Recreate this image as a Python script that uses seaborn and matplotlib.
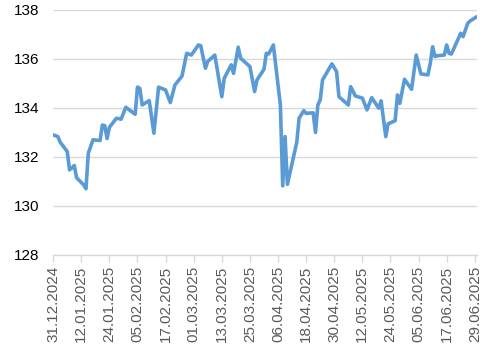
import matplotlib
matplotlib.use("Agg")
import matplotlib.pyplot as plt
import matplotlib.dates as mdates
import seaborn as sns
import pandas as pd
import numpy as np

dates = [
    "2024-12-31", "2025-01-02", "2025-01-03", "2025-01-06", "2025-01-07", "2025-01-08",
    "2025-01-09", "2025-01-10", "2025-01-13", "2025-01-14", "2025-01-15", "2025-01-17",
    "2025-01-20", "2025-01-21", "2025-01-22", "2025-01-23", "2025-01-24", "2025-01-27",
    "2025-01-29", "2025-01-31", "2025-02-04", "2025-02-05", "2025-02-06", "2025-02-07",
    "2025-02-10", "2025-02-12", "2025-02-14", "2025-02-17", "2025-02-19", "2025-02-21",
    "2025-02-24", "2025-02-26", "2025-02-28", "2025-03-03", "2025-03-04", "2025-03-06",
    "2025-03-07", "2025-03-10", "2025-03-13", "2025-03-14", "2025-03-17", "2025-03-18",
    "2025-03-20", "2025-03-21", "2025-03-25", "2025-03-27", "2025-03-28", "2025-03-31",
    "2025-04-01", "2025-04-02", "2025-04-04", "2025-04-07", "2025-04-08", "2025-04-09",
    "2025-04-10", "2025-04-14", "2025-04-15", "2025-04-17", "2025-04-18", "2025-04-21",
    "2025-04-22", "2025-04-23", "2025-04-24", "2025-04-25", "2025-04-29", "2025-05-01",
    "2025-05-02", "2025-05-06", "2025-05-07", "2025-05-09", "2025-05-12", "2025-05-14",
    "2025-05-16", "2025-05-19", "2025-05-20", "2025-05-22", "2025-05-23", "2025-05-26",
    "2025-05-27", "2025-05-28", "2025-05-30", "2025-06-02", "2025-06-04", "2025-06-06",
    "2025-06-09", "2025-06-10", "2025-06-11", "2025-06-12", "2025-06-13", "2025-06-16",
    "2025-06-17", "2025-06-18", "2025-06-19", "2025-06-23", "2025-06-24", "2025-06-26",
    "2025-06-27", "2025-06-30",
]
values = [
    132.90, 132.83, 132.60, 132.22, 131.47, 131.55,
    131.65, 131.15, 130.86, 130.70, 132.15, 132.70,
    132.67, 133.30, 133.28, 132.75, 133.21, 133.58,
    133.54, 134.03, 133.74, 134.85, 134.80, 134.12,
    134.30, 132.97, 134.85, 134.73, 134.22, 134.94,
    135.30, 136.23, 136.16, 136.57, 136.54, 135.62,
    135.90, 136.16, 134.46, 135.20, 135.76, 135.41,
    136.48, 136.03, 135.69, 134.67, 135.14, 135.58,
    136.23, 136.20, 136.57, 134.12, 130.82, 132.83,
    130.88, 132.60, 133.58, 133.89, 133.78, 133.80,
    133.00, 134.12, 134.33, 135.14, 135.80, 135.48,
    134.46, 134.12, 134.87, 134.49, 134.40, 133.92,
    134.42, 133.99, 134.29, 132.83, 133.35, 133.48,
    134.53, 134.19, 135.17, 134.76, 136.16, 135.39,
    135.35, 135.82, 136.50, 136.10, 136.13, 136.16,
    136.57, 136.23, 136.20, 137.05, 136.91, 137.46,
    137.55, 137.73,
]
tick_labels = [
    "31.12.2024", "12.01.2025", "24.01.2025", "05.02.2025", "17.02.2025", "01.03.2025",
    "13.03.2025", "25.03.2025", "06.04.2025", "18.04.2025", "30.04.2025", "12.05.2025",
    "24.05.2025", "05.06.2025", "17.06.2025", "29.06.2025",
]
y_ticks = [128, 130, 132, 134, 136, 138]

df = pd.DataFrame({"date": pd.to_datetime(dates), "value": values})

sns.set_theme(style="white")
plt.rcParams["font.family"] = ["Liberation Sans", "DejaVu Sans"]

fig = plt.figure(figsize=(4.97, 3.56), dpi=100)
ax = fig.add_axes([0.107, 0.284, 0.853, 0.688])

sns.lineplot(data=df, x="date", y="value", ax=ax, color="#5B9BD5", linewidth=2.6)

tick_dates = pd.to_datetime(tick_labels, format="%d.%m.%Y")
ax.set_xticks(tick_dates)
ax.set_xticklabels(tick_labels, rotation=90, color="#595959", fontsize=11)
ax.set_xlim(pd.Timestamp("2024-12-31"), pd.Timestamp("2025-06-30"))

ax.set_ylim(128, 138)
ax.set_yticks(y_ticks)
ax.set_yticklabels([str(v) for v in y_ticks], fontsize=11, color="black")
ax.yaxis.grid(True, color="#D9D9D9", linewidth=1)
ax.xaxis.grid(False)

for s in ["top", "right", "left"]:
    ax.spines[s].set_visible(False)
ax.spines["bottom"].set_color("#D9D9D9")
ax.spines["bottom"].set_linewidth(1)

ax.tick_params(axis="y", length=0, pad=10)
ax.tick_params(axis="x", length=5, width=1, color="#D9D9D9", direction="out", pad=3, bottom=True)
ax.set_xlabel("")
ax.set_ylabel("")

fig.savefig("out.png", dpi=100)
